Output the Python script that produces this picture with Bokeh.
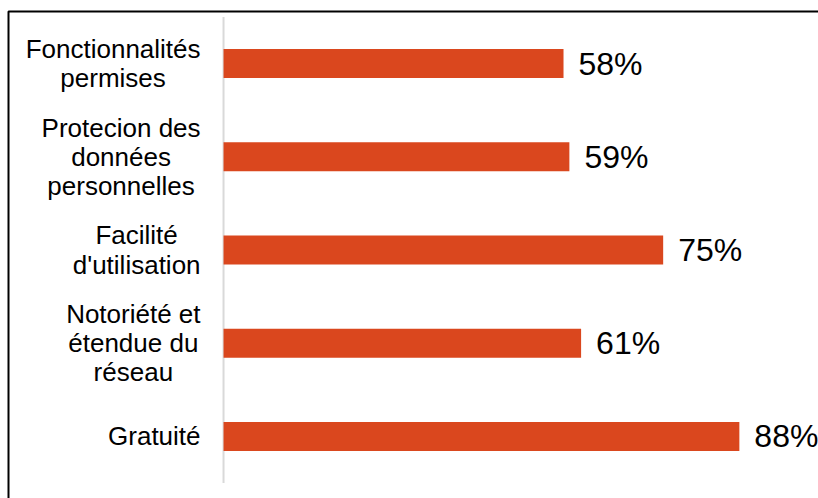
from bokeh.plotting import figure
from bokeh.models import ColumnDataSource, Range1d, BoxAnnotation
from bokeh.core.properties import value
from bokeh.embed import file_html
from bokeh.resources import INLINE

categories = [
    "Fonctionnalités\npermises",
    "Protecion des\ndonnées\npersonnelles",
    "Facilité\nd'utilisation",
    "Notoriété et\nétendue du\nréseau",
    "Gratuité",
]
values = [58, 59, 75, 61, 88]
value_labels = ["58%", "59%", "75%", "61%", "88%"]

BAR_COLOR = "#DA471E"
FONT = "Liberation Sans"
CAT_SIZE = 26
VAL_SIZE = 32
W, H = 818, 498

# Arial / Liberation Sans advance widths (per 1000 em) to centre wrapped lines
ARIAL_W = {" ": 278, "'": 191, "F": 611, "G": 778, "N": 722, "P": 667, "a": 556,
           "c": 500, "d": 556, "e": 556, "é": 556, "i": 222, "l": 222, "m": 833,
           "n": 556, "o": 556, "p": 556, "r": 333, "s": 500, "t": 278, "u": 556}


def block_width(label, size):
    return max(sum(ARIAL_W.get(ch, 556) for ch in line) for line in label.split("\n")) * size / 1000.0


n = len(categories)
ypos = [n - 1 - i for i in range(n)]

src = ColumnDataSource(dict(
    y=ypos,
    v=values,
    zero=[0] * n,
    lab=value_labels,
    cat=categories,
    cat_off=[-23 - block_width(c, CAT_SIZE) / 2.0 for c in categories],
))

p = figure(width=W, height=H, output_backend="svg", toolbar_location=None,
           x_range=Range1d(-38.05, 101.5), y_range=Range1d(-0.665, 4.676),
           min_border=0, outline_line_color=None)
p.xaxis.visible = False
p.yaxis.visible = False
p.xgrid.visible = False
p.ygrid.visible = False
p.background_fill_color = "white"
p.border_fill_color = "white"

# category axis line
p.segment(x0=0, x1=0, y0=-0.5, y1=n - 0.5, line_color="#D9D9D9", line_width=2)

p.hbar(y="y", left="zero", right="v", height=0.31, source=src,
       fill_color=BAR_COLOR, line_color=None)

p.text(x="v", y="y", text="lab", source=src, x_offset=15,
       text_align="left", text_baseline="middle",
       text_font=value(FONT), text_font_size=f"{VAL_SIZE}px", text_color="black")

p.text(x="zero", y="y", text="cat", source=src, x_offset="cat_off",
       text_align="center", text_baseline="middle", text_line_height=0.97,
       text_font=value(FONT), text_font_size=f"{CAT_SIZE}px", text_color="black")

# chart border (only left and top edges fall inside the picture)
p.add_layout(BoxAnnotation(left=8, right=W + 20, top=H - 11, bottom=-20,
                           left_units="screen", right_units="screen",
                           top_units="screen", bottom_units="screen",
                           fill_alpha=0, line_color="black", line_alpha=1.0,
                           line_width=2, editable=False))

open("out.html", "w").write(file_html(p, INLINE))
